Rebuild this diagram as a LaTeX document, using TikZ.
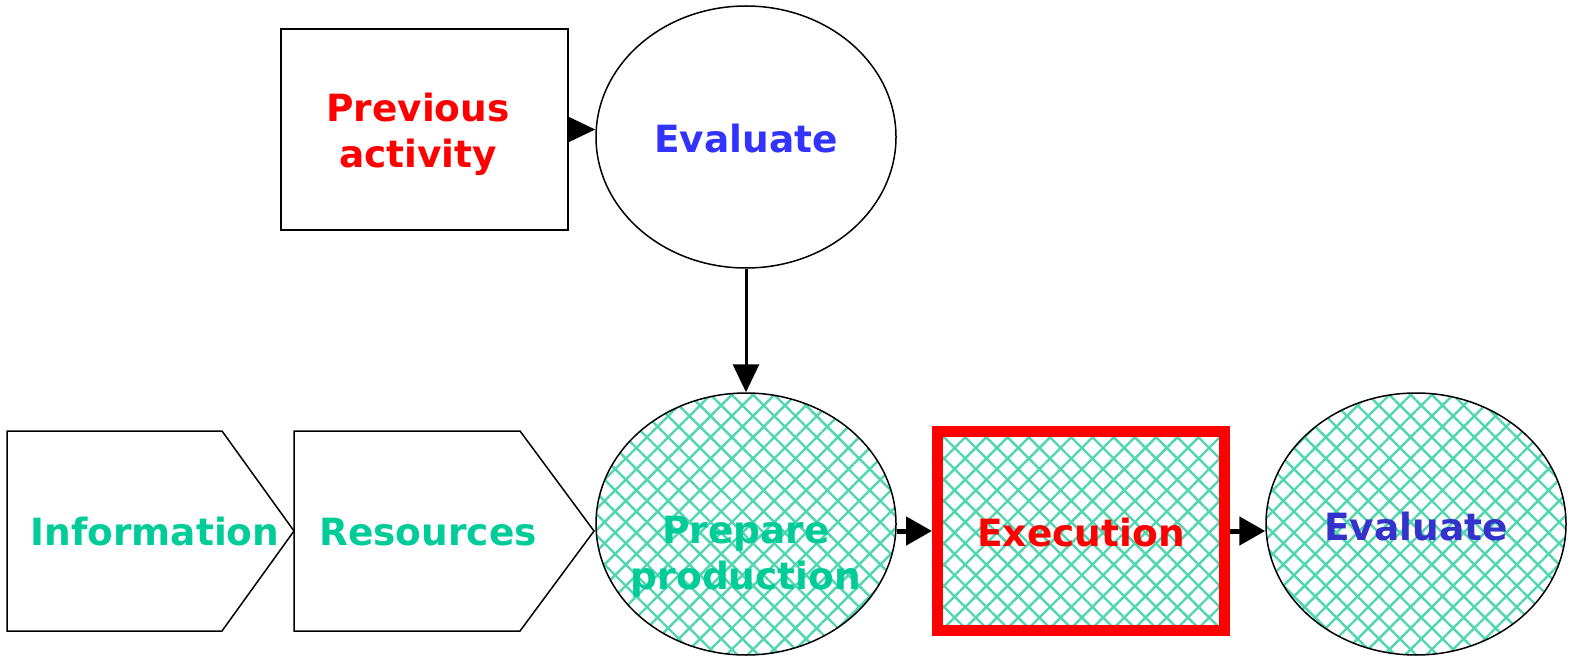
\documentclass[tikz,border=0pt]{standalone}
\usepackage{fontspec}
\setmainfont{DejaVu Sans}
\usetikzlibrary{shapes.geometric,arrows.meta,patterns.meta}
\definecolor{hatchgreen}{RGB}{80,215,175}
\definecolor{txtgreen}{RGB}{0,204,153}
\definecolor{txtred}{RGB}{255,0,0}
\definecolor{txtblue}{RGB}{51,51,255}
\definecolor{txtdblue}{RGB}{51,51,204}
\begin{document}
\begin{tikzpicture}[x=1pt,y=-1pt,
  lbl/.style={font=\fontsize{37.5}{46}\selectfont\bfseries, align=center, inner sep=0},
  oval/.style={ellipse, draw=black, line width=1.5, minimum width=300, minimum height=262, inner sep=0},
  boxnode/.style={rectangle, draw=black, line width=1.5, minimum width=287, minimum height=201, inner sep=0},
  hatched/.style={preaction={fill=white}, preaction={pattern={Hatch[angle=45,distance=15,line width=2.4]}, pattern color=hatchgreen}},
  tab/.style={draw=black, line width=1.5, fill=white},
  thinarrow/.style={-{Triangle[length=28,width=26]}, line width=3},
  flowarrow/.style={-{Triangle[length=26,width=28]}, line width=5}
]
\useasboundingbox (0,0) rectangle (1571,660);

% top row
\node[boxnode] (prev) at (424.5,129.5) {};
\node[lbl, text=txtred] at (418,134) {Previous\\activity};
\node[oval] (evtop) at (746,137) {};
\node[lbl, text=txtblue] at (746,139) {Evaluate};

% input tabs
\draw[tab] (7,431) -- (222,431) -- (294,531) -- (222,631) -- (7,631) -- cycle;
\node[lbl, text=txtgreen] (info) at (155,532) {Information};
\draw[tab] (294,431) -- (520,431) -- (594,531) -- (520,631) -- (294,631) -- cycle;
\node[lbl, text=txtgreen] (res) at (428,532) {Resources};

% bottom row
\node[oval, hatched] (prep) at (746,524) {};
\node[lbl, text=txtgreen] at (746,557) {Prepare\\production};
\node[rectangle, draw=txtred, line width=11, outer sep=5.5, minimum width=287, minimum height=199, inner sep=0, hatched] (exec) at (1081,531) {};
\node[lbl, text=txtred] at (1081,533) {Execution};
\node[oval, hatched] (evbot) at (1416,524) {};
\node[lbl, text=txtdblue] at (1416,527) {Evaluate};

% connectors
\draw[thinarrow] (prev.east) -- (prev.east -| evtop.west);
\draw[thinarrow] (evtop.south) -- (prep.north);
\draw[flowarrow] (exec.west -| prep.east) -- (exec.west);
\draw[flowarrow] (exec.east) -- (exec.east -| evbot.west);
\end{tikzpicture}
\end{document}
